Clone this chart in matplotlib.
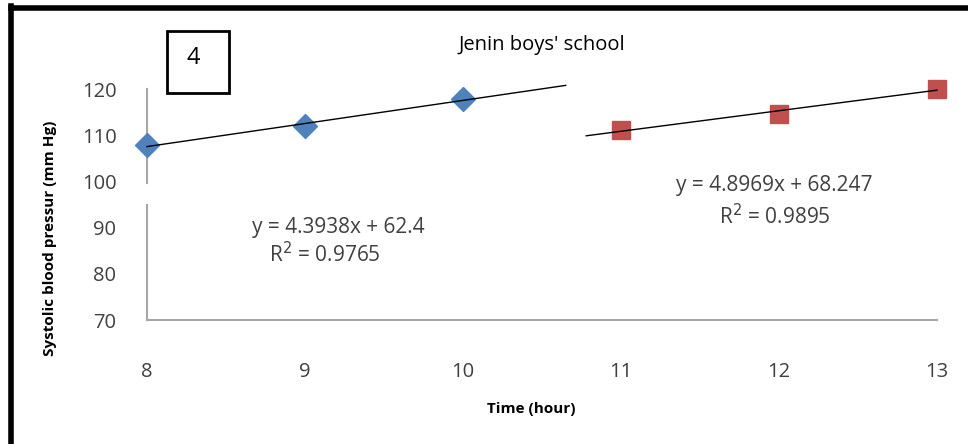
import numpy as np
import matplotlib
matplotlib.use("Agg")
import matplotlib.pyplot as plt
from matplotlib.lines import Line2D
from matplotlib.patches import Rectangle

# -----------------------------
# Data
# -----------------------------
hours_a = [8, 9, 10]
sbp_a = [107.8, 112.0, 117.8]
hours_b = [11, 12, 13]
sbp_b = [111.2, 114.6, 120.1]

eq_a = "y = 4.3938x + 62.4"
r2_a = "R$^2$ = 0.9765"
eq_b = "y = 4.8969x + 68.247"
r2_b = "R$^2$ = 0.9895"
x_ticks = [8, 9, 10, 11, 12, 13]
y_ticks = [70, 80, 90, 100, 110, 120]

plt.rcParams['font.family'] = ['Open Sans', 'DejaVu Sans']
txt_col = '#404040'
axis_col = '#a6a6a6'

fig = plt.figure(figsize=(9.68, 4.44), dpi=100)
ax = fig.add_axes([147 / 968, 1 - 320 / 444, 790 / 968, 231 / 444])
ax.set_xlim(8, 13)
ax.set_ylim(70, 120)

# trendlines (linear fit, drawn a bit past the last point like Excel)
ka, ba = np.polyfit(hours_a, sbp_a, 1)
kb, bb = np.polyfit(hours_b, sbp_b, 1)
xa = np.array([8, 10.65])
xb = np.array([10.78, 13])
ax.plot(xa, ka * xa + ba, color='black', lw=1.0, clip_on=False, zorder=3)
ax.plot(xb, kb * xb + bb, color='black', lw=1.0, clip_on=False, zorder=3)

ax.plot(hours_a, sbp_a, linestyle='none', marker='D', ms=12, color='#4f81bd',
        clip_on=False, zorder=2)
ax.plot(hours_b, sbp_b, linestyle='none', marker='s', ms=13, color='#c0504d',
        clip_on=False, zorder=2)

# axes look
for s in ['top', 'right', 'left']:
    ax.spines[s].set_visible(False)
ax.spines['bottom'].set_color(axis_col)
ax.spines['bottom'].set_linewidth(1.5)
# left axis line has a small break between 95 and 100
ax.plot([8, 8], [70, 95.0], color=axis_col, lw=1.5, clip_on=False, zorder=1)
ax.plot([8, 8], [99.6, 120], color=axis_col, lw=1.5, clip_on=False, zorder=1)

ax.set_xticks(x_ticks)
ax.set_yticks(y_ticks)
ax.tick_params(axis='both', length=0, labelsize=14.5, colors=txt_col)
ax.tick_params(axis='x', pad=30)
ax.tick_params(axis='y', pad=22)

ax.set_xlabel("Time (hour)", fontsize=11, fontweight='bold')
ax.xaxis.set_label_coords((531 - 147) / 790, (320 - 402) / 231)
ax.set_ylabel("Systolic blood pressur (mm Hg)", fontsize=11, fontweight='bold')
ax.yaxis.set_label_coords((57 - 147) / 790, (320 - 238) / 231)

# trendline equations
def px_text(x, y, s, **kw):
    fig.text(x / 968, 1 - y / 444, s, ha='center', va='center', **kw)

px_text(338, 227, eq_a, fontsize=15, color=txt_col)
px_text(325, 255, r2_a, fontsize=15, color=txt_col)
px_text(774, 186, eq_b, fontsize=15, color=txt_col)
px_text(775, 217, r2_b, fontsize=15, color=txt_col)

px_text(542, 45, "Jenin boys' school", fontsize=14.5, color='black')

# panel number box
fig.add_artist(Rectangle((167 / 968, 1 - 93 / 444), 62 / 968, 62 / 444,
                         transform=fig.transFigure, fill=False,
                         edgecolor='black', lw=2))
px_text(193, 58, "4", fontsize=17, color='black')

# thick outer frame (top and left only visible)
fig.add_artist(Line2D([11 / 968, 1], [1 - 8 / 444, 1 - 8 / 444],
                      transform=fig.transFigure, color='black', lw=4))
fig.add_artist(Line2D([11 / 968, 11 / 968], [0, 1 - 6 / 444],
                      transform=fig.transFigure, color='black', lw=4))

fig.savefig("out.png", dpi=100)
